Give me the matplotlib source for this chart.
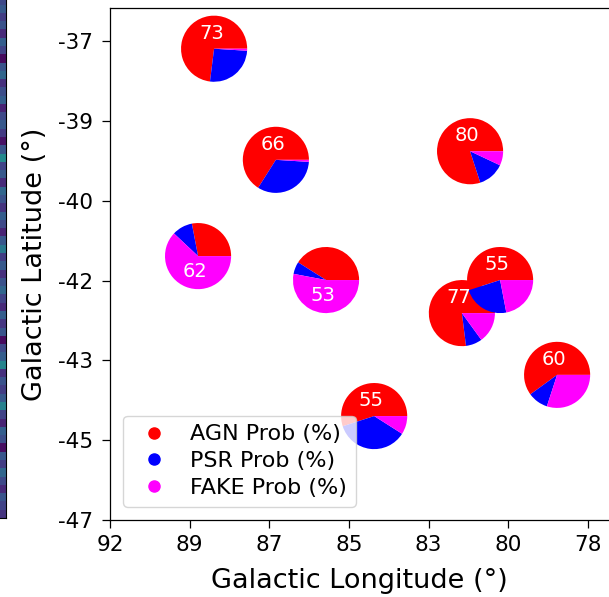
import numpy as np
import matplotlib
matplotlib.use("Agg")
import matplotlib.pyplot as plt
import matplotlib.transforms as mtransforms
from matplotlib.patches import Wedge
from matplotlib.lines import Line2D

# source positions (galactic lon / lat, degrees)
lon = [88.95, 87.14, 89.42, 85.67, 81.45, 81.69, 80.57, 78.90, 84.26]
lat = [-37.16, -39.48, -41.49, -41.99, -39.30, -42.68, -41.99, -43.97, -44.83]

# classification probabilities (%)
agn_prob = [73, 66, 28, 41, 80, 77, 55, 60, 55]
psr_prob = [26, 33, 10, 6, 13, 8, 23, 10, 36]
fake_prob = [1, 1, 62, 53, 7, 15, 22, 30, 9]

class_names = ["AGN Prob (%)", "PSR Prob (%)", "FAKE Prob (%)"]
class_colors = ["red", "blue", "magenta"]

xticks = np.linspace(92, 78, 7)
xtick_labels = ["92", "89", "87", "85", "83", "80", "78"]
yticks = np.linspace(-37, -47, 7)
ytick_labels = ["-37", "-39", "-40", "-42", "-43", "-45", "-47"]

# neighbouring map column (edge of the previous panel)
strip = [0.15, 0.22, 0.28, 0.18, 0.25, 0.12, 0.30, 0.20, 0.03, 0.26,
         0.33, 0.14, 0.24, 0.30, 0.10, 0.22, 0.28, 0.17, 0.05, 0.26,
         0.47, 0.20, 0.28, 0.12, 0.33, 0.25, 0.15, 0.30, 0.22, 0.10,
         0.27, 0.40, 0.18, 0.28, 0.14, 0.25, 0.33, 0.20, 0.12, 0.30,
         0.16, 0.26, 0.03, 0.22, 0.30, 0.45, 0.14, 0.25, 0.18, 0.28,
         0.44, 0.20, 0.10, 0.30, 0.24, 0.04, 0.27, 0.18, 0.33, 0.22,
         0.12, 0.26, 0.20, 0.15]

fig = plt.figure(figsize=(6.09, 5.97), dpi=100)
W, H = 609.0, 597.0

sax = fig.add_axes([-30 / W, 79 / H, 36 / W, 530 / H])
sax.imshow(np.array(strip)[:, None], cmap="viridis", vmin=0, vmax=1,
           aspect="auto", interpolation="nearest")
sax.set_xticks([])
sax.set_yticks([])

ax_w = 499.5
ax = fig.add_axes([110 / W, 77 / H, ax_w / W, 512 / H])
ax.set_xlim(92, 92 - ax_w / 34.13)
ax.set_ylim(-47, -36.31)

radius_pt = 23.8
for i in range(len(lon)):
    probs = [agn_prob[i], psr_prob[i], fake_prob[i]]
    trans = (fig.dpi_scale_trans + mtransforms.ScaledTranslation(lon[i], lat[i], ax.transData))
    start = 0.0
    for p, c in zip(probs, class_colors):
        end = start + 360.0 * p / sum(probs)
        w = Wedge((0, 0), radius_pt / 72.0, start, end, facecolor=c,
                  edgecolor="none", transform=trans, zorder=2 + i * 0.01)
        ax.add_patch(w)
        start = end
    top = int(np.argmax(probs))
    dy = 0.47 * radius_pt if top == 0 else -0.47 * radius_pt
    ax.annotate(str(max(probs)), (lon[i], lat[i]), xytext=(-2, dy),
                textcoords="offset points", ha="center", va="center",
                color="white", fontsize=14, zorder=5)

ax.set_xticks(xticks)
ax.set_xticklabels(xtick_labels)
ax.set_yticks(yticks)
ax.set_yticklabels(ytick_labels)
ax.tick_params(labelsize=15.5, length=5.5, width=0.9, pad=5)
ax.tick_params(axis="y", pad=7)
for s in ax.spines.values():
    s.set_linewidth(0.9)

ax.set_xlabel("Galactic Longitude (°)", fontsize=19.5, labelpad=10)
ax.set_ylabel("Galactic Latitude (°)", fontsize=19.5, labelpad=7)

handles = [Line2D([], [], marker="o", linestyle="", color=c, markersize=8)
           for c in class_colors]
ax.legend(handles, class_names, loc="lower left", fontsize=16,
          handletextpad=0.6, labelspacing=0.3, borderaxespad=0.6)

fig.savefig("out.png", dpi=100)
